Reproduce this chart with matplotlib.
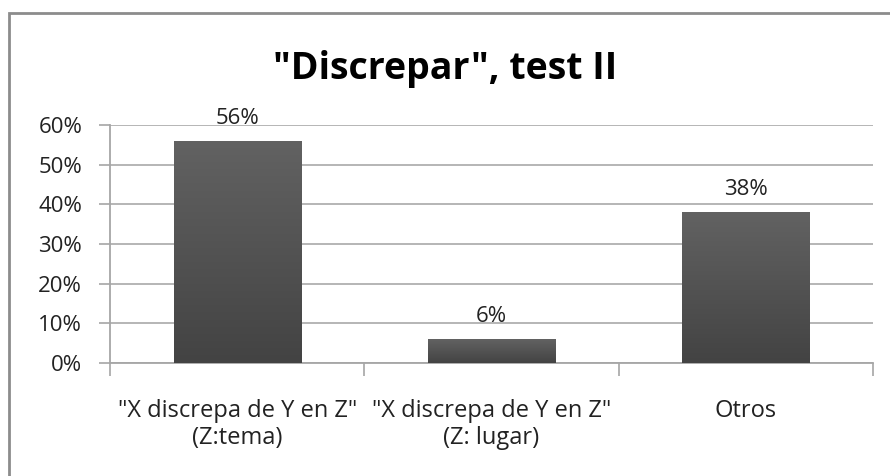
import numpy as np
import matplotlib
matplotlib.use("Agg")
import matplotlib.pyplot as plt
from matplotlib.patches import Rectangle
from matplotlib.ticker import PercentFormatter

plt.rcParams['font.family'] = ['Open Sans', 'DejaVu Sans']

categories = ['"X discrepa de Y en Z"\n(Z:tema)', '"X discrepa de Y en Z"\n(Z: lugar)', 'Otros']
values = [0.56, 0.06, 0.38]
labels = ['56%', '6%', '38%']
yticks = [0, 0.1, 0.2, 0.3, 0.4, 0.5, 0.6]

fig = plt.figure(figsize=(8.9, 4.76), dpi=100)

# outer chart border (runs off right / bottom like the screenshot)
fig.patches.append(Rectangle((9 / 890, -0.05), 1.0, (476 - 13) / 476 + 0.05,
                             transform=fig.transFigure, fill=False,
                             edgecolor='#8c8c8c', linewidth=2))

ax = fig.add_axes([110 / 890, (476 - 363) / 476, (873 - 110) / 890, 238 / 476])

x = np.arange(len(values))
bars = ax.bar(x, values, width=0.5, color='#505050', zorder=3)

# vertical gradient on each bar
grad = np.linspace(0, 1, 256).reshape(-1, 1)
cmap = matplotlib.colors.LinearSegmentedColormap.from_list('g', ['#434343', '#626262'])
for b, lab in zip(bars, labels):
    x0, w, h = b.get_x(), b.get_width(), b.get_height()
    im = ax.imshow(grad, cmap=cmap, aspect='auto', origin='lower',
                   extent=[x0, x0 + w, 0, h], zorder=4)
    im.set_clip_path(b)
    ax.text(x0 + w / 2, h + 0.03, lab, ha='center',
            va='bottom', fontsize=16, color='#222222')

ax.set_xlim(-0.5, len(values) - 0.5)
ax.set_ylim(0, 0.6)
ax.set_yticks(yticks)
ax.yaxis.set_major_formatter(PercentFormatter(1.0, decimals=0))
ax.set_xticks(x)
ax.set_xticklabels(categories, fontsize=17, color='#222222', linespacing=1.15)
ax.set_xticks(np.arange(len(values) + 1) - 0.5, minor=True)
ax.tick_params(axis='x', which='major', length=0, pad=26)
ax.tick_params(axis='x', which='minor', length=9, color='#a6a6a6', width=1.2)
ax.tick_params(axis='y', labelsize=16, labelcolor='#222222', length=8,
               color='#a6a6a6', width=1.2, pad=12)

ax.grid(axis='y', color='#b0b0b0', linewidth=1.3, zorder=0)
for s in ['top', 'right']:
    ax.spines[s].set_visible(False)
for s in ['left', 'bottom']:
    ax.spines[s].set_color('#a6a6a6')
    ax.spines[s].set_linewidth(1.3)

fig.text(445 / 890, (476 - 69) / 476, '"Discrepar", test II', ha='center',
         va='center', fontsize=27, fontweight='bold', color='black')

fig.savefig('out.png', dpi=100)
